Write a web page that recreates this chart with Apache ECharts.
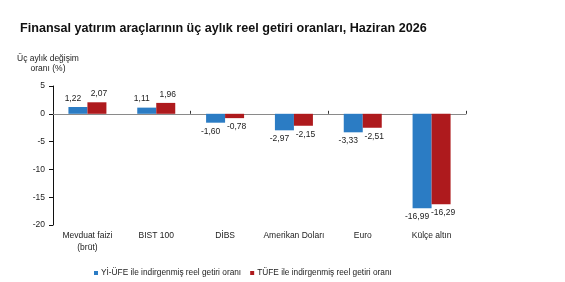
<!DOCTYPE html>
<html>
<head>
<meta charset="utf-8">
<script src="https://cdn.jsdelivr.net/npm/echarts@6/dist/echarts.min.js"></script>
<style>
  html, body { margin: 0; padding: 0; background: #fff; }
  #chart { width: 565px; height: 282px; }
</style>
</head>
<body>
<div id="chart"></div>
<script>
const categories = ['Mevduat faizi\n(brüt)', 'BIST 100', 'DİBS', 'Amerikan Doları', 'Euro', 'Külçe altın'];
const yiufe = [1.22, 1.11, -1.60, -2.97, -3.33, -16.99];
const tufe = [2.07, 1.96, -0.78, -2.15, -2.51, -16.29];
const seriesNames = ['Yİ-ÜFE ile indirgenmiş reel getiri oranı', 'TÜFE ile indirgenmiş reel getiri oranı'];

const font = 'Liberation Sans, Arial, sans-serif';
const fmt = v => v.toFixed(2).replace('.', ',');

function toItems(values, dx) {
  return values.map(v => ({
    value: v,
    label: {
      position: v < 0 ? 'bottom' : 'top',
      offset: [dx, 0]
    }
  }));
}

const chart = echarts.init(document.getElementById('chart'));
const option = {
  animation: false,
  textStyle: { fontFamily: font },
  title: {
    text: 'Finansal yatırım araçlarının üç aylık reel getiri oranları, Haziran 2026',
    left: 15,
    top: 17,
    textStyle: { fontSize: 12.6, fontWeight: 'bold', color: '#111', fontFamily: font }
  },
  legend: {
    left: 89,
    top: 264,
    itemWidth: 4,
    itemHeight: 4,
    itemGap: 9,
    icon: 'rect',
    textStyle: { fontSize: 8.3, color: '#222', fontFamily: font, padding: [0, 0, 0, -2] },
    data: seriesNames
  },
  grid: { left: 53, right: 99, top: 86, bottom: 57 },
  xAxis: [
    {
      type: 'category',
      data: categories,
      axisLine: { show: false, onZero: false },
      axisTick: { show: false },
      axisLabel: { fontSize: 8.5, color: '#222', margin: 5, interval: 0, lineHeight: 12 }
    },
    {
      type: 'category',
      data: categories,
      position: 'bottom',
      axisLine: { onZero: true, lineStyle: { color: '#8a8a8a', width: 1 } },
      axisTick: { show: true, inside: true, length: 3, lineStyle: { color: '#333' } },
      axisLabel: { show: false }
    }
  ],
  yAxis: {
    type: 'value',
    min: -20,
    max: 5,
    interval: 5,
    name: 'Üç aylık değişim\noranı (%)',
    nameLocation: 'end',
    nameGap: 12,
    nameTextStyle: { fontSize: 8.5, color: '#222', align: 'center', lineHeight: 10, padding: [0, 0, 0, -10] },
    axisLine: { show: true, lineStyle: { color: '#111' } },
    axisTick: { show: true, length: 4, lineStyle: { color: '#111' } },
    axisLabel: { fontSize: 8.5, color: '#222', margin: 8 },
    splitLine: { show: false }
  },
  series: [
    {
      name: seriesNames[0],
      type: 'bar',
      barWidth: 19,
      barGap: '0%',
      data: toItems(yiufe, -5),
      itemStyle: { color: '#2B7CC4' },
      label: { show: true, fontSize: 8.5, color: '#222', distance: 4, formatter: p => fmt(p.value) }
    },
    {
      name: seriesNames[1],
      type: 'bar',
      barWidth: 19,
      barGap: '0%',
      data: toItems(tufe, 2),
      itemStyle: { color: '#AE1A1D' },
      label: { show: true, fontSize: 8.5, color: '#222', distance: 4, formatter: p => fmt(p.value) }
    }
  ]
};
chart.setOption(option);
</script>
</body>
</html>
